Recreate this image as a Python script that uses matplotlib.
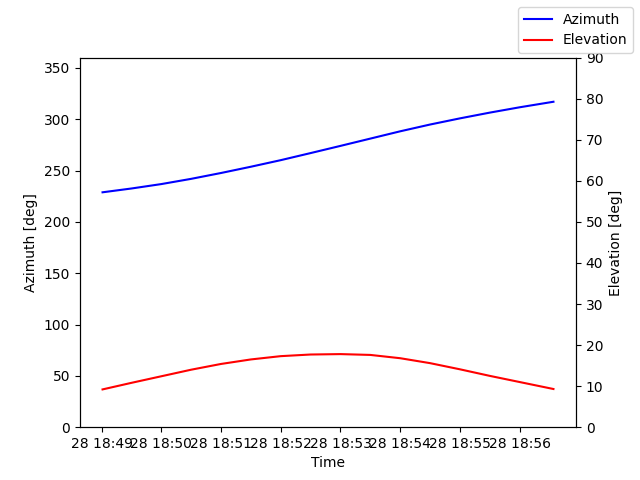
import numpy as np
import pandas as pd
import matplotlib
matplotlib.use("Agg")
import matplotlib.pyplot as plt

# pass samples
times = pd.to_datetime([
    "2024-05-28 18:49:01", "2024-05-28 18:49:30", "2024-05-28 18:50:00", "2024-05-28 18:50:30",
    "2024-05-28 18:51:00", "2024-05-28 18:51:30", "2024-05-28 18:52:00", "2024-05-28 18:52:30",
    "2024-05-28 18:53:00", "2024-05-28 18:53:30", "2024-05-28 18:54:00", "2024-05-28 18:54:30",
    "2024-05-28 18:55:00", "2024-05-28 18:55:30", "2024-05-28 18:56:00", "2024-05-28 18:56:34",
])
azimuth = [228.8, 232.5, 236.8, 241.9, 247.6, 253.7, 260.1, 267.0,
           274.0, 281.1, 288.2, 294.8, 300.8, 306.4, 311.6, 317.0]
elevation = [9.2, 10.8, 12.4, 14.0, 15.4, 16.5, 17.3, 17.7,
             17.8, 17.6, 16.8, 15.6, 14.1, 12.5, 11.0, 9.3]

fig, ax1 = plt.subplots(figsize=(6.4, 4.8), dpi=100)
ax1.plot(times, azimuth, color="blue", label="Azimuth")
ax1.set_ylim(0, 360)
ax1.set_xlabel("Time")
ax1.set_ylabel("Azimuth [deg]")

ax2 = ax1.twinx()
ax2.plot(times, elevation, color="red", label="Elevation")
ax2.set_ylim(0, 90)
ax2.set_ylabel("Elevation [deg]")

fig.legend()
fig.savefig("out.png", dpi=100)
